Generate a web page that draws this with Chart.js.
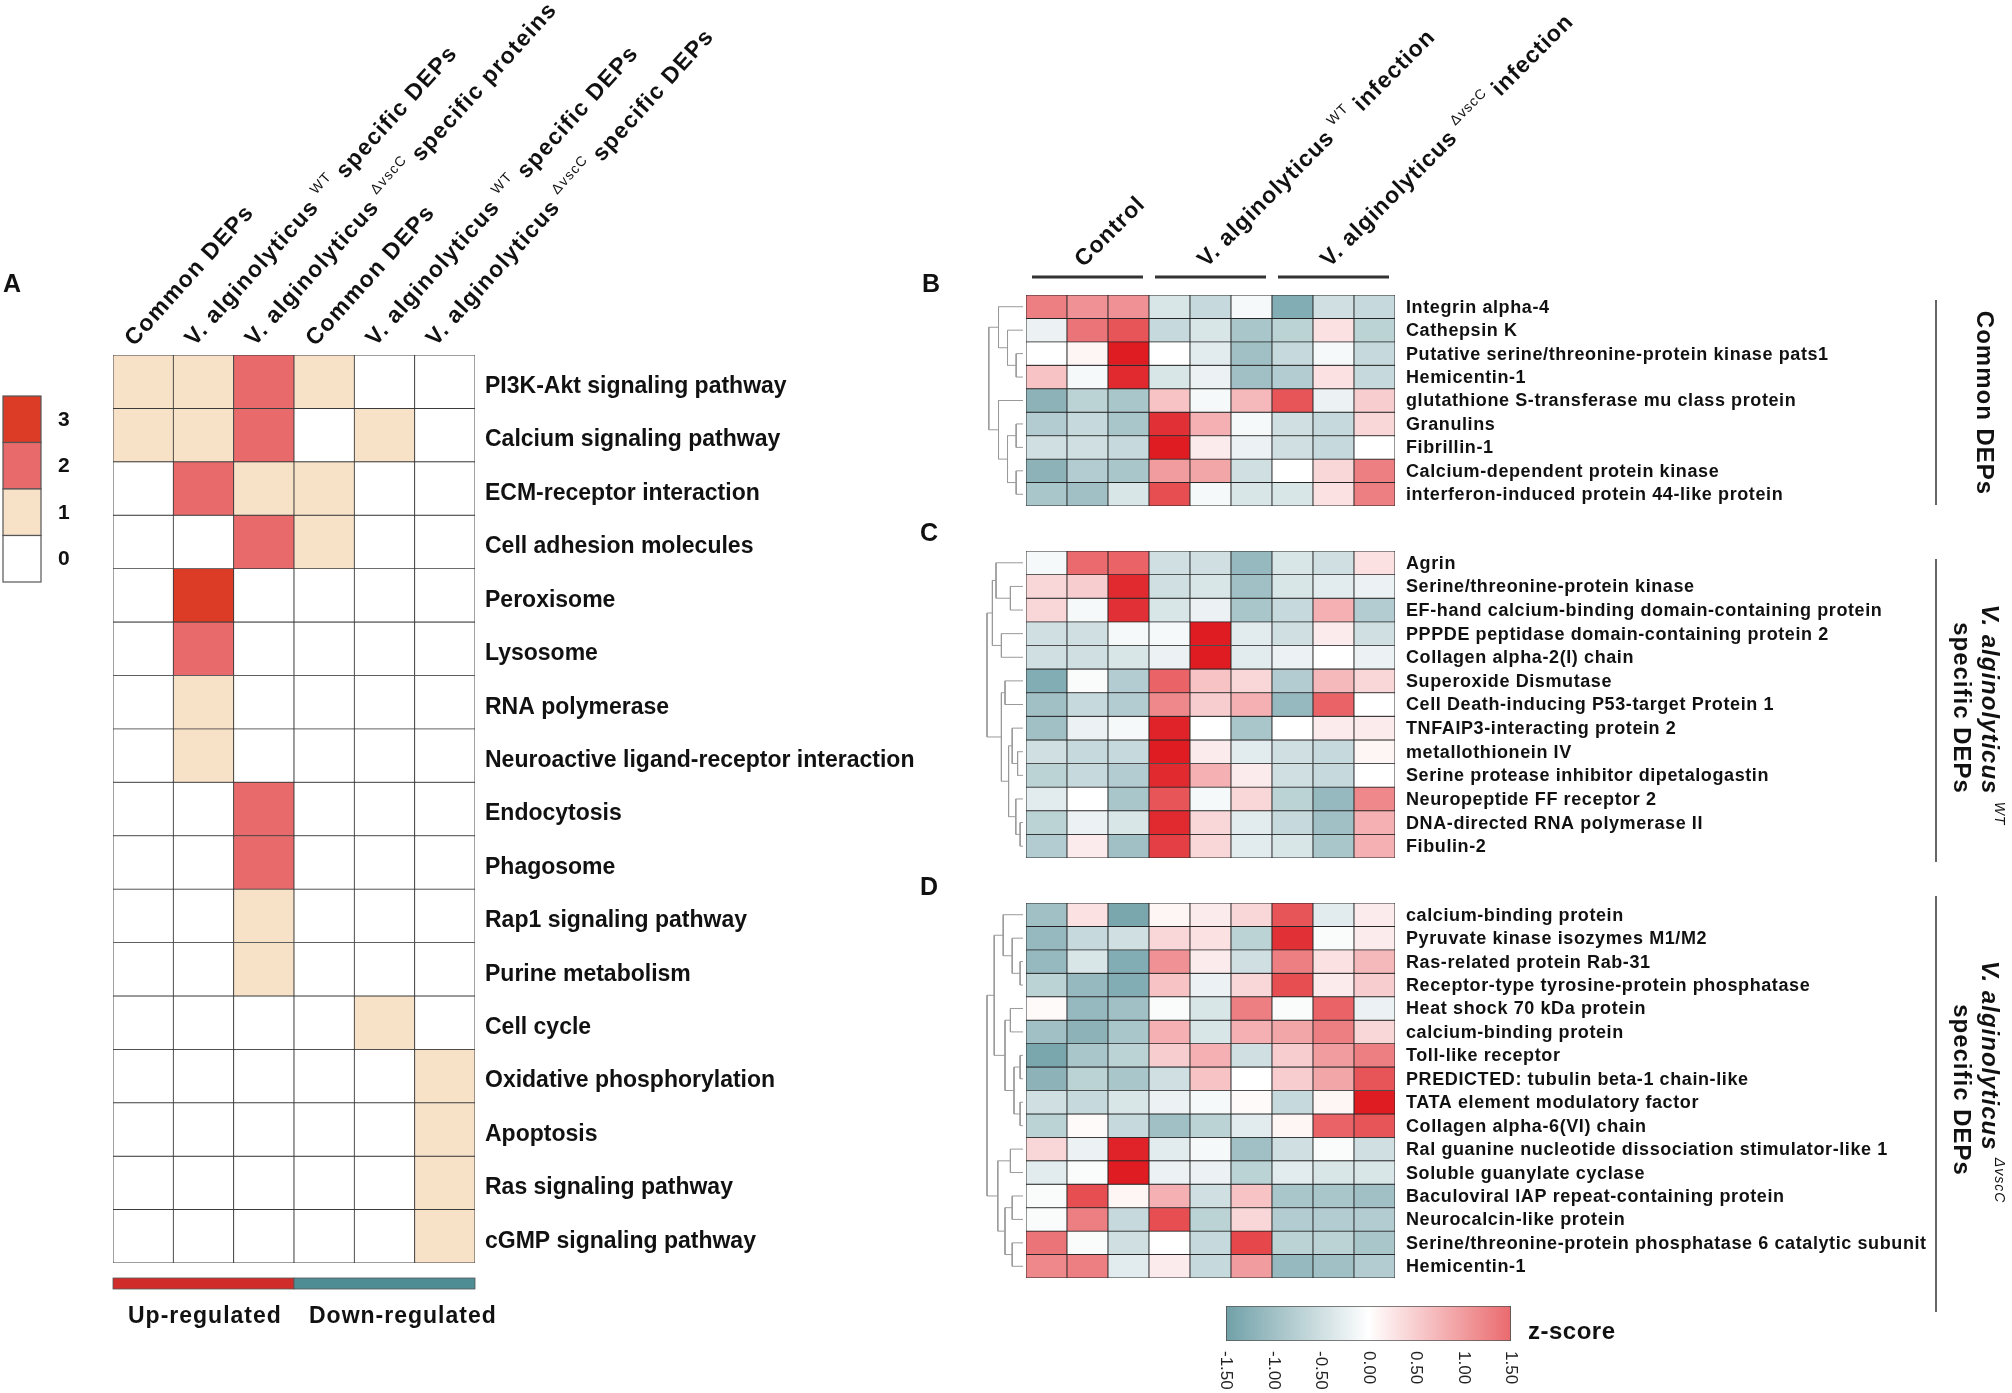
<!DOCTYPE html>
<html>
<head>
<meta charset="utf-8">
<script src="https://cdn.jsdelivr.net/npm/chart.js@4.4.1/dist/chart.umd.min.js"></script>
<style>
  html, body { margin: 0; padding: 0; background: #fff; }
  #wrap { position: relative; width: 2012px; height: 1393px; overflow: hidden; }
  #wrap canvas { position: absolute; left: 0; top: 0; }
</style>
</head>
<body>
<div id="wrap">
  <canvas id="panelA" width="2012" height="1393"></canvas>
  <canvas id="treeB" width="2012" height="1393"></canvas>
  <canvas id="panelB" width="2012" height="1393"></canvas>
  <canvas id="treeC" width="2012" height="1393"></canvas>
  <canvas id="panelC" width="2012" height="1393"></canvas>
  <canvas id="treeD" width="2012" height="1393"></canvas>
  <canvas id="panelD" width="2012" height="1393"></canvas>
  <canvas id="zbar" width="2012" height="1393"></canvas>
</div>
<script>
const W = 2012, H = 1393;
const FONT = '"Liberation Sans", Arial, Helvetica, sans-serif';

// ---- panel A: number of DEPs per KEGG pathway
const pathways = [
  'PI3K-Akt signaling pathway', 'Calcium signaling pathway', 'ECM-receptor interaction',
  'Cell adhesion molecules', 'Peroxisome', 'Lysosome', 'RNA polymerase',
  'Neuroactive ligand-receptor interaction', 'Endocytosis', 'Phagosome',
  'Rap1 signaling pathway', 'Purine metabolism', 'Cell cycle',
  'Oxidative phosphorylation', 'Apoptosis', 'Ras signaling pathway', 'cGMP signaling pathway'
];
const depSets = ['upCommon', 'upWT', 'upDvscC', 'downCommon', 'downWT', 'downDvscC'];
const depSetLabels = [
  {pre: 'Common DEPs'},
  {pre: 'V. alginolyticus', sup: 'WT', post: 'specific DEPs'},
  {pre: 'V. alginolyticus', sup: 'ΔvscC', post: 'specific proteins'},
  {pre: 'Common DEPs'},
  {pre: 'V. alginolyticus', sup: 'WT', post: 'specific DEPs'},
  {pre: 'V. alginolyticus', sup: 'ΔvscC', post: 'specific DEPs'}
];
const pathwayCounts = [
  [1, 1, 2, 1, 0, 0],
  [1, 1, 2, 0, 1, 0],
  [0, 2, 1, 1, 0, 0],
  [0, 0, 2, 1, 0, 0],
  [0, 3, 0, 0, 0, 0],
  [0, 2, 0, 0, 0, 0],
  [0, 1, 0, 0, 0, 0],
  [0, 1, 0, 0, 0, 0],
  [0, 0, 2, 0, 0, 0],
  [0, 0, 2, 0, 0, 0],
  [0, 0, 1, 0, 0, 0],
  [0, 0, 1, 0, 0, 0],
  [0, 0, 0, 0, 1, 0],
  [0, 0, 0, 0, 0, 1],
  [0, 0, 0, 0, 0, 1],
  [0, 0, 0, 0, 0, 1],
  [0, 0, 0, 0, 0, 1]
];
const countLevels = [3, 2, 1, 0];
const countColors = ['#ffffff', '#f7e1c7', '#e96a6b', '#dc3b26'];
const regulation = [
  {label: 'Up-regulated', from: 0, to: 2, color: '#d02d2a'},
  {label: 'Down-regulated', from: 3, to: 5, color: '#4f8d94'}
];

// ---- panels B-D: z-scored abundance, 3 replicates per group
const samples = ['Control-1', 'Control-2', 'Control-3', 'WT-1', 'WT-2', 'WT-3', 'dvscC-1', 'dvscC-2', 'dvscC-3'];
const sampleGroups = [
  {pre: 'Control'},
  {pre: 'V. alginolyticus', sup: 'WT', post: 'infection'},
  {pre: 'V. alginolyticus', sup: 'ΔvscC', post: 'infection'}
];
const zTicks = [-1.5, -1.0, -0.5, 0, 0.5, 1.0, 1.5];

const commonNames = [
  'Integrin alpha-4', 'Cathepsin K', 'Putative serine/threonine-protein kinase pats1', 'Hemicentin-1',
  'glutathione S-transferase mu class protein', 'Granulins', 'Fibrillin-1',
  'Calcium-dependent protein kinase', 'interferon-induced protein 44-like protein'
];
const commonZ = [
  [1.3, 1.1, 1.1, -0.4, -0.6, -0.1, -1.3, -0.5, -0.6],
  [-0.2, 1.4, 1.8, -0.6, -0.4, -0.9, -0.7, 0.3, -0.7],
  [0.0, 0.1, 2.6, 0.0, -0.3, -1.0, -0.6, -0.1, -0.6],
  [0.6, -0.1, 2.4, -0.4, -0.2, -1.0, -0.8, 0.3, -0.6],
  [-1.2, -0.7, -0.9, 0.6, -0.1, 0.7, 1.8, -0.2, 0.5],
  [-0.8, -0.6, -0.9, 2.3, 0.8, -0.1, -0.5, -0.6, 0.4],
  [-0.5, -0.5, -0.6, 2.6, 0.2, -0.2, -0.5, -0.6, 0.0],
  [-1.2, -0.8, -0.9, 1.0, 0.9, -0.5, 0.0, 0.4, 1.3],
  [-0.9, -1.0, -0.4, 1.9, -0.1, -0.4, -0.4, 0.3, 1.3]
];
// hclust-style merges: negative = row (1-based), positive = earlier merge
const commonTree = [
  [-3, -4, 0.19], [-2, 1, 0.43], [-1, 2, 0.68], [-6, -7, 0.19], [-8, -9, 0.19],
  [4, 5, 0.43], [-5, 6, 0.68], [3, 7, 0.95]
];

const wtNames = [
  'Agrin', 'Serine/threonine-protein kinase', 'EF-hand calcium-binding domain-containing protein',
  'PPPDE peptidase domain-containing protein 2', 'Collagen alpha-2(I) chain', 'Superoxide Dismutase',
  'Cell Death-inducing P53-target Protein 1', 'TNFAIP3-interacting protein 2', 'metallothionein IV',
  'Serine protease inhibitor dipetalogastin', 'Neuropeptide FF receptor 2',
  'DNA-directed RNA polymerase II', 'Fibulin-2'
];
const wtZ = [
  [-0.1, 1.5, 1.6, -0.5, -0.5, -1.1, -0.4, -0.5, 0.3],
  [0.4, 0.5, 2.4, -0.5, -0.4, -1.0, -0.4, -0.3, -0.2],
  [0.4, -0.1, 2.3, -0.4, -0.2, -0.9, -0.6, 0.8, -0.8],
  [-0.5, -0.5, -0.1, -0.1, 2.6, -0.3, -0.5, 0.2, -0.5],
  [-0.5, -0.5, -0.4, -0.2, 2.6, -0.3, -0.2, 0.0, -0.2],
  [-1.3, -0.05, -0.8, 1.6, 0.6, 0.4, -0.8, 0.7, 0.4],
  [-1.0, -0.6, -0.8, 1.2, 0.5, 0.8, -1.1, 1.6, 0.0],
  [-1.0, -0.2, -0.1, 2.5, 0.0, -0.9, 0.0, 0.2, 0.2],
  [-0.5, -0.6, -0.6, 2.6, 0.2, -0.3, -0.5, -0.6, 0.1],
  [-0.7, -0.6, -0.8, 2.4, 0.8, 0.2, -0.5, -0.6, 0.0],
  [-0.3, 0.0, -0.9, 1.8, -0.1, 0.4, -0.7, -1.1, 1.2],
  [-0.7, -0.2, -0.4, 2.4, 0.4, -0.3, -0.6, -1.0, 0.8],
  [-0.8, 0.2, -1.0, 2.1, 0.4, -0.3, -0.4, -0.9, 0.8]
];
const wtTree = [
  [-2, -3, 0.35], [-1, 1, 0.75], [-4, -5, 0.6], [2, 3, 0.85], [-6, -7, 0.5],
  [-9, -10, 0.15], [-8, 6, 0.3], [-12, -13, 0.08], [-11, 8, 0.2], [7, 9, 0.4],
  [5, 10, 0.6], [4, 11, 1.0]
];

const dvNames = [
  'calcium-binding protein', 'Pyruvate kinase isozymes M1/M2', 'Ras-related protein Rab-31',
  'Receptor-type tyrosine-protein phosphatase', 'Heat shock 70 kDa protein', 'calcium-binding protein',
  'Toll-like receptor', 'PREDICTED: tubulin beta-1 chain-like', 'TATA element modulatory factor',
  'Collagen alpha-6(VI) chain', 'Ral guanine nucleotide dissociation stimulator-like 1',
  'Soluble guanylate cyclase', 'Baculoviral IAP repeat-containing protein', 'Neurocalcin-like protein',
  'Serine/threonine-protein phosphatase 6 catalytic subunit', 'Hemicentin-1'
];
const dvZ = [
  [-1.0, 0.3, -1.4, 0.1, 0.2, 0.4, 1.8, -0.3, 0.2],
  [-1.1, -0.6, -0.5, 0.4, 0.3, -0.7, 2.3, -0.05, 0.2],
  [-1.1, -0.4, -1.3, 1.1, 0.2, -0.5, 1.3, 0.3, 0.7],
  [-0.7, -1.1, -1.3, 0.6, -0.2, 0.4, 1.9, 0.2, 0.5],
  [0.05, -1.1, -1.0, -0.05, -0.4, 1.3, -0.05, 1.6, -0.2],
  [-1.0, -1.2, -0.9, 0.8, -0.4, 0.8, 0.9, 1.3, 0.4],
  [-1.4, -0.9, -0.7, 0.5, 0.8, -0.5, 0.5, 1.0, 1.3],
  [-1.2, -0.7, -0.9, -0.5, 0.6, 0.0, 0.5, 0.9, 1.8],
  [-0.5, -0.6, -0.4, -0.2, -0.1, 0.05, -0.6, 0.1, 2.6],
  [-0.7, 0.05, -0.6, -1.0, -0.7, -0.3, 0.1, 1.6, 1.8],
  [0.4, -0.2, 2.5, -0.3, -0.1, -1.0, -0.5, -0.05, -0.5],
  [-0.3, -0.05, 2.6, -0.2, -0.2, -0.7, -0.3, -0.4, -0.4],
  [-0.05, 1.9, 0.1, 0.8, -0.5, 0.6, -0.9, -0.9, -1.0],
  [-0.05, 1.3, -0.6, 1.9, -0.7, 0.4, -0.8, -0.8, -0.8],
  [1.4, -0.05, -0.5, 0.0, -0.6, 2.0, -0.7, -0.7, -0.9],
  [1.2, 1.3, -0.3, 0.2, -0.6, 1.0, -1.1, -1.0, -0.8]
];
const dvTree = [
  [-3, -4, 0.08], [-2, 1, 0.3], [-1, 2, 0.55], [-5, -6, 0.35], [-7, -8, 0.08],
  [-9, -10, 0.08], [5, 6, 0.25], [4, 7, 0.5], [3, 8, 0.8], [-11, -12, 0.35],
  [-13, -14, 0.3], [-15, -16, 0.3], [11, 12, 0.5], [10, 13, 0.7], [9, 14, 1.0]
];

// ---- colour scale for z-scores
const zStops = [[-1.5, [112, 160, 168]], [0, [255, 255, 255]], [1.5, [234, 106, 110]], [2.6, [222, 28, 34]]];
function zColor(v) {
  if (v <= zStops[0][0]) return `rgb(${zStops[0][1].join(',')})`;
  for (let i = 1; i < zStops.length; i++) {
    const [v1, c1] = zStops[i], [v0, c0] = zStops[i - 1];
    if (v <= v1) {
      const t = (v - v0) / (v1 - v0);
      return `rgb(${c0.map((c, k) => Math.round(c + (c1[k] - c) * t)).join(',')})`;
    }
  }
  return `rgb(${zStops[zStops.length - 1][1].join(',')})`;
}

// text with a species name and a superscript strain
function drawRich(ctx, lab, x, y, angle, size, italic, center, spacing = 1) {
  const parts = [[lab.pre, size, 0, 0, true]];
  if (lab.sup) parts.push([lab.sup, Math.round(size * 0.6), center ? -size * 0.42 : -size * 0.5, size * 0.3, false]);
  if (lab.post) parts.push([lab.post, size, 0, size * 0.3, true]);
  ctx.save();
  ctx.translate(x, y);
  ctx.rotate(angle);
  ctx.fillStyle = '#111';
  ctx.textAlign = 'left';
  ctx.textBaseline = center ? 'middle' : 'alphabetic';
  ctx.letterSpacing = spacing + 'px';
  const font = p => `${italic ? 'italic ' : ''}${p[4] ? 'bold ' : ''}${p[1]}px ${FONT}`;
  let total = 0;
  parts.forEach(p => { ctx.font = font(p); total += p[3] + ctx.measureText(p[0]).width; });
  let cx = center ? -total / 2 : 0;
  parts.forEach(p => {
    ctx.font = font(p);
    cx += p[3];
    ctx.fillText(p[0], cx, p[2]);
    cx += ctx.measureText(p[0]).width;
  });
  ctx.restore();
}

function panelLetter(ctx, letter, x, y) {
  ctx.save();
  ctx.letterSpacing = '0px';
  ctx.font = `bold 25px ${FONT}`;
  ctx.fillStyle = '#111';
  ctx.textBaseline = 'middle';
  ctx.fillText(letter, x, y);
  ctx.restore();
}

function bracket(ctx, y0, y1) {
  ctx.save();
  ctx.strokeStyle = '#333';
  ctx.lineWidth = 1.5;
  ctx.beginPath();
  ctx.moveTo(1936, y0);
  ctx.lineTo(1936, y1);
  ctx.stroke();
  ctx.restore();
}

const baseOptions = {
  responsive: false,
  animation: false,
  devicePixelRatio: 1,
  events: [],
  plugins: {legend: {display: false}, tooltip: {enabled: false}}
};

// ---- panel A chart
const panelAExtras = {
  id: 'panelAExtras',
  afterDraw(chart) {
    const ctx = chart.ctx, x = chart.scales.x, area = chart.chartArea;
    const colW = x.getPixelForValue(1) - x.getPixelForValue(0);
    depSetLabels.forEach((lab, i) => {
      drawRich(ctx, lab, x.getPixelForValue(i) - 9, area.top - 8, -48 * Math.PI / 180, 23, false, false, 1.3);
    });
    // colour key
    countLevels.forEach((lv, i) => {
      const y0 = 396 + i * 46.5;
      ctx.fillStyle = countColors[lv];
      ctx.fillRect(3, y0, 38, 46.5);
      ctx.strokeStyle = '#555';
      ctx.lineWidth = 1.2;
      ctx.strokeRect(3, y0, 38, 46.5);
      ctx.fillStyle = '#111';
      ctx.font = `bold 21px ${FONT}`;
      ctx.textBaseline = 'middle';
      ctx.textAlign = 'left';
      ctx.fillText(String(lv), 58, y0 + 24);
    });
    // up / down bar
    regulation.forEach(g => {
      const l = x.getPixelForValue(g.from) - colW / 2, r = x.getPixelForValue(g.to) + colW / 2;
      ctx.fillStyle = g.color;
      ctx.fillRect(l, area.bottom + 15, r - l, 11);
      ctx.strokeStyle = '#555';
      ctx.lineWidth = 0.8;
      ctx.strokeRect(l, area.bottom + 15, r - l, 11);
      ctx.save();
      ctx.fillStyle = '#111';
      ctx.font = `bold 23px ${FONT}`;
      ctx.letterSpacing = '1px';
      ctx.textBaseline = 'middle';
      ctx.fillText(g.label, l + 15, area.bottom + 54);
      ctx.restore();
    });
    panelLetter(ctx, 'A', 3, 285);
  }
};

new Chart(document.getElementById('panelA'), {
  type: 'bar',
  data: {
    labels: depSets,
    datasets: pathways.map((p, r) => ({
      label: p,
      data: pathwayCounts[r].map(() => [r, r + 1]),
      backgroundColor: pathwayCounts[r].map(v => countColors[v]),
      borderColor: '#3c3c3c',
      borderWidth: 0.8,
      borderSkipped: false,
      barPercentage: 1,
      categoryPercentage: 1
    }))
  },
  options: {
    ...baseOptions,
    layout: {padding: {left: 113, top: 355, right: 0, bottom: H - 1263}},
    scales: {
      x: {stacked: true, display: false},
      y: {
        stacked: false, position: 'right', min: 0, max: pathways.length, reverse: true,
        grid: {display: false, drawTicks: false}, border: {display: false},
        afterFit: s => { s.width = W - 475; },
        afterBuildTicks: s => { s.ticks = pathways.map((_, i) => ({value: i + 0.5})); },
        ticks: {
          autoSkip: false, padding: 10, labelOffset: 5, color: '#111',
          font: {size: 23, weight: 'bold', family: FONT},
          callback: (v, i) => pathways[i]
        }
      }
    }
  },
  plugins: [panelAExtras]
});

// ---- dendrograms
function treeSegments(merges) {
  const pos = [];
  const node = id => id < 0 ? {h: 0, y: -id - 0.5} : pos[id - 1];
  return merges.map(([a, b, h]) => {
    const A = node(a), B = node(b);
    pos.push({h, y: (A.y + B.y) / 2});
    return [{x: A.h, y: A.y}, {x: h, y: A.y}, {x: h, y: B.y}, {x: B.h, y: B.y}];
  });
}

function treeChart(id, merges, n, top, bottom) {
  new Chart(document.getElementById(id), {
    type: 'scatter',
    data: {
      datasets: treeSegments(merges).map(seg => ({
        data: seg, showLine: true, pointRadius: 0, borderColor: '#9a9a9a', borderWidth: 1, clip: false
      }))
    },
    options: {
      ...baseOptions,
      layout: {padding: {left: 987, right: W - 1023, top, bottom: H - bottom}},
      scales: {
        x: {type: 'linear', min: 0, max: 1, reverse: true, display: false},
        y: {type: 'linear', min: 0, max: n, reverse: true, display: false}
      }
    }
  });
}

// ---- z-score heatmaps
function zPanel(id, names, z, top, bottom, extra) {
  new Chart(document.getElementById(id), {
    type: 'bar',
    data: {
      labels: samples,
      datasets: names.map((nm, r) => ({
        label: nm,
        data: z[r].map(() => [r, r + 1]),
        backgroundColor: z[r].map(zColor),
        borderColor: '#262626',
        borderWidth: 0.8,
        borderSkipped: false,
        barPercentage: 1,
        categoryPercentage: 1
      }))
    },
    options: {
      ...baseOptions,
      layout: {padding: {left: 1026, top, right: 0, bottom: H - bottom}},
      scales: {
        x: {stacked: true, display: false},
        y: {
          stacked: false, position: 'right', min: 0, max: names.length, reverse: true,
          grid: {display: false, drawTicks: false}, border: {display: false},
          afterFit: s => { s.width = W - 1395; },
          afterBuildTicks: s => { s.ticks = names.map((_, i) => ({value: i + 0.5})); },
          ticks: {
            autoSkip: false, padding: 11, labelOffset: 1, color: '#111',
            font: {size: 18, weight: 'bold', family: FONT},
            callback: (v, i) => names[i]
          }
        }
      }
    },
    plugins: [{
      id: 'spacing',
      beforeDraw(chart) { chart.ctx.letterSpacing = '0.6px'; },
      afterDraw(chart) { chart.ctx.letterSpacing = '0px'; }
    }, extra]
  });
}

const extrasB = {
  id: 'extrasB',
  afterDraw(chart) {
    const ctx = chart.ctx, x = chart.scales.x;
    const colW = x.getPixelForValue(1) - x.getPixelForValue(0);
    sampleGroups.forEach((g, k) => {
      const l = x.getPixelForValue(k * 3) - colW / 2 + 6;
      const r = x.getPixelForValue(k * 3 + 2) + colW / 2 - 6;
      ctx.save();
      ctx.strokeStyle = '#333';
      ctx.lineWidth = 3;
      ctx.beginPath();
      ctx.moveTo(l, 277);
      ctx.lineTo(r, 277);
      ctx.stroke();
      ctx.restore();
      drawRich(ctx, g, x.getPixelForValue(k * 3 + 1) - 4, 268, -45 * Math.PI / 180, 23, false, false, 1);
    });
    bracket(ctx, 300, 505);
    drawRich(ctx, {pre: 'Common DEPs'}, 1984, 403, Math.PI / 2, 24, false, true);
    panelLetter(ctx, 'B', 922, 285);
  }
};

const extrasC = {
  id: 'extrasC',
  afterDraw(chart) {
    const ctx = chart.ctx;
    bracket(ctx, 559, 862);
    drawRich(ctx, {pre: 'V. alginolyticus', sup: 'WT'}, 1989, 715, Math.PI / 2, 24, true, true);
    drawRich(ctx, {pre: 'specific DEPs'}, 1961, 708, Math.PI / 2, 24, false, true);
    panelLetter(ctx, 'C', 920, 534);
  }
};

const extrasD = {
  id: 'extrasD',
  afterDraw(chart) {
    const ctx = chart.ctx;
    bracket(ctx, 896, 1312);
    drawRich(ctx, {pre: 'V. alginolyticus', sup: 'ΔvscC'}, 1989, 1082, Math.PI / 2, 24, true, true);
    drawRich(ctx, {pre: 'specific DEPs'}, 1961, 1090, Math.PI / 2, 24, false, true);
    panelLetter(ctx, 'D', 920, 888);
  }
};

treeChart('treeB', commonTree, commonNames.length, 295, 506);
zPanel('panelB', commonNames, commonZ, 295, 506, extrasB);
treeChart('treeC', wtTree, wtNames.length, 551, 858);
zPanel('panelC', wtNames, wtZ, 551, 858, extrasC);
treeChart('treeD', dvTree, dvNames.length, 903, 1278);
zPanel('panelD', dvNames, dvZ, 903, 1278, extrasD);

// ---- z-score colour bar
const zbarExtras = {
  id: 'zbarExtras',
  afterDraw(chart) {
    const ctx = chart.ctx, x = chart.scales.x, area = chart.chartArea;
    ctx.save();
    ctx.fillStyle = '#222';
    ctx.font = `17px ${FONT}`;
    ctx.textAlign = 'left';
    ctx.textBaseline = 'middle';
    zTicks.forEach(t => {
      ctx.save();
      ctx.translate(x.getPixelForValue(t), area.bottom + 10);
      ctx.rotate(Math.PI / 2);
      ctx.fillText(t.toFixed(2), 0, 0);
      ctx.restore();
    });
    ctx.font = `bold 24px ${FONT}`;
    ctx.letterSpacing = '0.5px';
    ctx.fillStyle = '#111';
    ctx.fillText('z-score', area.right + 17, area.top + 26);
    ctx.restore();
  }
};

new Chart(document.getElementById('zbar'), {
  type: 'bar',
  data: {
    labels: ['z-score'],
    datasets: [{
      data: [[zTicks[0], zTicks[zTicks.length - 1]]],
      backgroundColor: c => {
        const a = c.chart.chartArea;
        if (!a) return '#fff';
        const g = c.chart.ctx.createLinearGradient(a.left, 0, a.right, 0);
        const lo = zTicks[0], hi = zTicks[zTicks.length - 1];
        zTicks.forEach(t => g.addColorStop((t - lo) / (hi - lo), zColor(t)));
        return g;
      },
      borderColor: '#555',
      borderWidth: 1.2,
      borderSkipped: false,
      barPercentage: 1,
      categoryPercentage: 1
    }]
  },
  options: {
    ...baseOptions,
    indexAxis: 'y',
    layout: {padding: {left: 1226, right: W - 1511, top: 1306, bottom: H - 1341}},
    scales: {
      x: {type: 'linear', min: zTicks[0], max: zTicks[zTicks.length - 1], display: false},
      y: {display: false}
    }
  },
  plugins: [zbarExtras]
});
</script>
</body>
</html>
